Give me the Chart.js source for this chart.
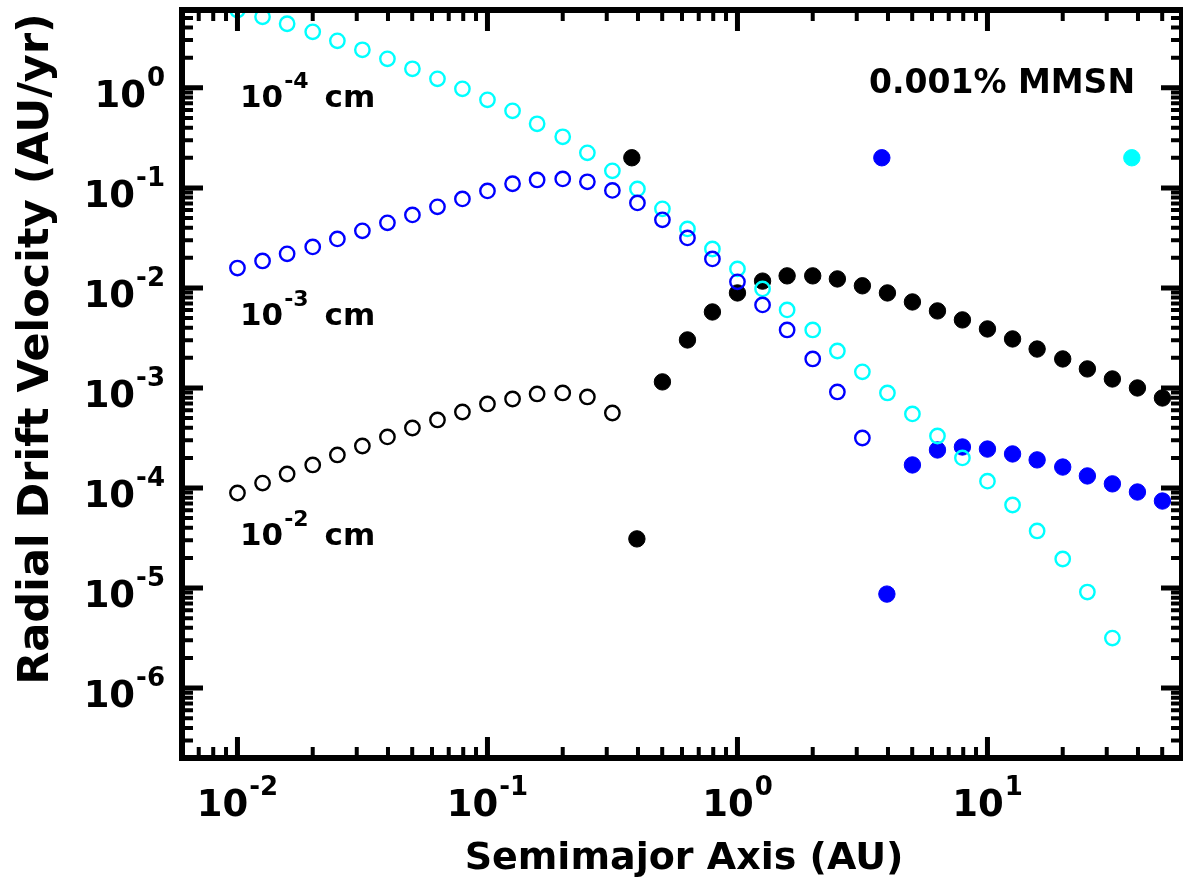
<!DOCTYPE html>
<html>
<head>
<meta charset="utf-8">
<script src="https://cdn.jsdelivr.net/npm/chart.js@4.4.1/dist/chart.umd.min.js"></script>
<style>
  html, body { margin: 0; padding: 0; background: #fff; overflow: hidden; }
  canvas { display: block; }
</style>
</head>
<body>
<canvas id="driftChart" width="1183" height="882"></canvas>
<script>
// Semimajor axis grid (AU), shared by all series
const semimajor = [
  0.01, 0.0126, 0.0158, 0.02, 0.0251, 0.0316, 0.0398, 0.0501, 0.0631, 0.0794,
  0.1, 0.126, 0.158, 0.2, 0.251, 0.316, 0.398, 0.501, 0.631, 0.794,
  1, 1.26, 1.58, 2, 2.51, 3.16, 3.98, 5.01, 6.31, 7.94,
  10, 12.6, 15.8, 20, 25.1, 31.6, 39.8, 50.1,
];

// Radial drift velocity (AU/yr)
// 1e-4 cm grains (cyan), starts at semimajor[0]
const cyanOpen = [
  6.0, 5.13, 4.37, 3.63, 2.95, 2.4, 1.95, 1.55, 1.23, 0.977,
  0.759, 0.589, 0.437, 0.324, 0.224, 0.148, 0.0977, 0.0617, 0.0389, 0.0245,
  0.0155, 0.00977, 0.00603, 0.0038, 0.00234, 0.00145, 0.000891, 0.00055, 0.000331, 0.0002,
  0.000117, 6.76e-5, 3.72e-5, 1.95e-5, 9.12e-6, 3.16e-6,
];
// 1e-3 cm grains (blue), starts at semimajor[0]
const blueOpen = [
  0.0158, 0.0186, 0.0219, 0.0257, 0.0309, 0.0372, 0.0447, 0.0537, 0.0646, 0.0776,
  0.0933, 0.11, 0.12, 0.123, 0.115, 0.0944, 0.0708, 0.0479, 0.0316, 0.0195,
  0.0115, 0.00676, 0.0038, 0.00195, 0.000912, 0.000316,
];
// 1e-2 cm grains (black), starts at semimajor[0]
const blackOpen = [
  8.91e-5, 1.12e-4, 1.38e-4, 1.7e-4, 2.14e-4, 2.63e-4, 3.24e-4, 3.98e-4, 4.79e-4, 5.75e-4,
  6.92e-4, 7.76e-4, 8.71e-4, 8.91e-4, 8.13e-4, 5.62e-4,
];
// filled black starts at semimajor[17], filled blue at semimajor[27]
const blackFilledStart = 17;
const blackFilled = [
  0.00115, 0.00302, 0.00575, 0.00891, 0.0117, 0.0132, 0.0132, 0.0123, 0.0105, 0.00891,
  0.00724, 0.00589, 0.00479, 0.00389, 0.00309, 0.00245, 0.00195, 0.00155, 0.00123, 0.001,
  0.000794,
];
const blueFilledStart = 27;
const blueFilled = [
  1.7e-4, 2.4e-4, 2.57e-4, 2.45e-4, 2.19e-4, 1.91e-4, 1.62e-4, 1.32e-4, 1.1e-4, 9.12e-5,
  7.41e-5,
];

// single filled markers
const blackMarkX = [0.378, 0.396];
const blackMarkY = [0.2, 3.1e-5];
const blueMarkX = [3.78, 3.96];
const blueMarkY = [0.2, 8.7e-6];
const cyanMarkX = [37.8];
const cyanMarkY = [0.2];

// axis ranges and tick labels
const xRange = [0.006, 60];
const yRange = [2e-7, 6];
const xTickExps = [-2, -1, 0, 1];
const yTickExps = [-6, -5, -4, -3, -2, -1, 0];

const sizeLabels = ["-4", "-3", "-2"];
const diskLabel = "0.001% MMSN";
const xTitle = "Semimajor Axis (AU)";
const yTitle = "Radial Drift Velocity (AU/yr)";

const toPoints = (vals, start) =>
  vals.map((v, i) => ({ x: semimajor[start + i], y: v }));
const zipPoints = (xs, ys) => xs.map((x, i) => ({ x, y: ys[i] }));

const FONT = "'DejaVu Sans', sans-serif";

function openSet(data, color) {
  return {
    data,
    showLine: false,
    pointStyle: "circle",
    pointRadius: 7.2,
    pointBorderWidth: 2.4,
    pointBorderColor: color,
    pointBackgroundColor: "rgba(0,0,0,0)",
    clip: 0,
  };
}
function filledSet(data, color) {
  return {
    data,
    showLine: false,
    pointStyle: "circle",
    pointRadius: 8.2,
    pointBorderWidth: 1,
    pointBorderColor: color,
    pointBackgroundColor: color,
    clip: 0,
  };
}

function logTicks(min, max) {
  const out = [];
  for (let e = Math.floor(Math.log10(min)); e <= Math.ceil(Math.log10(max)); e++) {
    for (let m = 1; m <= 9; m++) {
      const v = m * Math.pow(10, e);
      if (v >= min * 0.999 && v <= max * 1.001) out.push({ v, major: m === 1 });
    }
  }
  return out;
}

// "10" with a raised exponent
function drawPow(ctx, x, y, exp, align, size, supSize, rise) {
  ctx.font = "bold " + size + "px " + FONT;
  const w1 = ctx.measureText("10").width;
  ctx.font = "bold " + supSize + "px " + FONT;
  const w2 = ctx.measureText(exp).width;
  const total = w1 + 1 + w2;
  let x0 = x;
  if (align === "center") x0 = x - total / 2;
  if (align === "right") x0 = x - total;
  ctx.textAlign = "left";
  ctx.textBaseline = "alphabetic";
  ctx.font = "bold " + size + "px " + FONT;
  ctx.fillText("10", x0, y);
  ctx.font = "bold " + supSize + "px " + FONT;
  ctx.fillText(exp, x0 + w1 + 1, y - rise);
  return x0 + total;
}

const framePlugin = {
  id: "framePlugin",
  afterDatasetsDraw(chart) {
    const { ctx, chartArea: a, scales } = chart;
    const sx = scales.x, sy = scales.y;
    ctx.save();
    ctx.strokeStyle = "#000";
    ctx.fillStyle = "#000";
    ctx.lineCap = "butt";

    // ticks on all four sides, pointing inward
    logTicks(xRange[0], xRange[1]).forEach((t) => {
      const px = sx.getPixelForValue(t.v);
      const len = t.major ? 21 : 11;
      ctx.lineWidth = t.major ? 5 : 4;
      ctx.beginPath();
      ctx.moveTo(px, a.bottom);
      ctx.lineTo(px, a.bottom - len);
      ctx.moveTo(px, a.top);
      ctx.lineTo(px, a.top + len);
      ctx.stroke();
    });
    logTicks(yRange[0], yRange[1]).forEach((t) => {
      const py = sy.getPixelForValue(t.v);
      const len = t.major ? 21 : 11;
      ctx.lineWidth = t.major ? 5 : 4;
      ctx.beginPath();
      ctx.moveTo(a.left, py);
      ctx.lineTo(a.left + len, py);
      ctx.moveTo(a.right, py);
      ctx.lineTo(a.right - len, py);
      ctx.stroke();
    });

    // frame
    ctx.lineWidth = 6;
    ctx.strokeRect(a.left, a.top, a.right - a.left, a.bottom - a.top);

    // tick labels
    xTickExps.forEach((e) => {
      const px = sx.getPixelForValue(Math.pow(10, e));
      drawPow(ctx, px, a.bottom + 58, String(e), "center", 37, 26, 21);
    });
    yTickExps.forEach((e) => {
      const py = sy.getPixelForValue(Math.pow(10, e));
      drawPow(ctx, a.left - 17, py + 19, String(e), "right", 37, 26, 21);
    });

    // axis titles
    ctx.font = "bold 38px " + FONT;
    ctx.textAlign = "center";
    ctx.textBaseline = "alphabetic";
    ctx.fillText(xTitle, (a.left + a.right) / 2 + 2, 869);
    ctx.save();
    ctx.translate(48, 349);
    ctx.rotate(-Math.PI / 2);
    ctx.font = "bold 43px " + FONT;
    ctx.fillText(yTitle, 0, 0);
    ctx.restore();

    // grain size labels
    const labelBase = [107, 325, 545];
    sizeLabels.forEach((e, i) => {
      const end = drawPow(ctx, a.left + 58, labelBase[i], e, "left", 31, 22, 19);
      ctx.font = "bold 31px " + FONT;
      ctx.textAlign = "left";
      ctx.fillText("cm", end + 16, labelBase[i]);
    });

    // disk label
    ctx.font = "bold 33px " + FONT;
    ctx.textAlign = "right";
    ctx.fillText(diskLabel, 1135, 93);
    ctx.restore();
  },
};

new Chart(document.getElementById("driftChart"), {
  type: "scatter",
  data: {
    datasets: [
      openSet(toPoints(blueOpen, 0), "#0000ff"),
      openSet(toPoints(cyanOpen, 0), "#00ffff"),
      openSet(toPoints(blackOpen, 0), "#000000"),
      filledSet(toPoints(blackFilled, blackFilledStart), "#000000"),
      filledSet(zipPoints(blackMarkX, blackMarkY), "#000000"),
      filledSet(toPoints(blueFilled, blueFilledStart), "#0000ff"),
      filledSet(zipPoints(blueMarkX, blueMarkY), "#0000ff"),
      filledSet(zipPoints(cyanMarkX, cyanMarkY), "#00ffff"),
    ],
  },
  options: {
    responsive: false,
    animation: false,
    events: [],
    layout: {
      autoPadding: false,
      padding: { left: 182, top: 10, right: 1, bottom: 124 },
    },
    plugins: {
      legend: { display: false },
      tooltip: { enabled: false },
    },
    scales: {
      x: { type: "logarithmic", display: false, min: xRange[0], max: xRange[1] },
      y: { type: "logarithmic", display: false, min: yRange[0], max: yRange[1] },
    },
  },
  plugins: [framePlugin],
});
</script>
</body>
</html>
